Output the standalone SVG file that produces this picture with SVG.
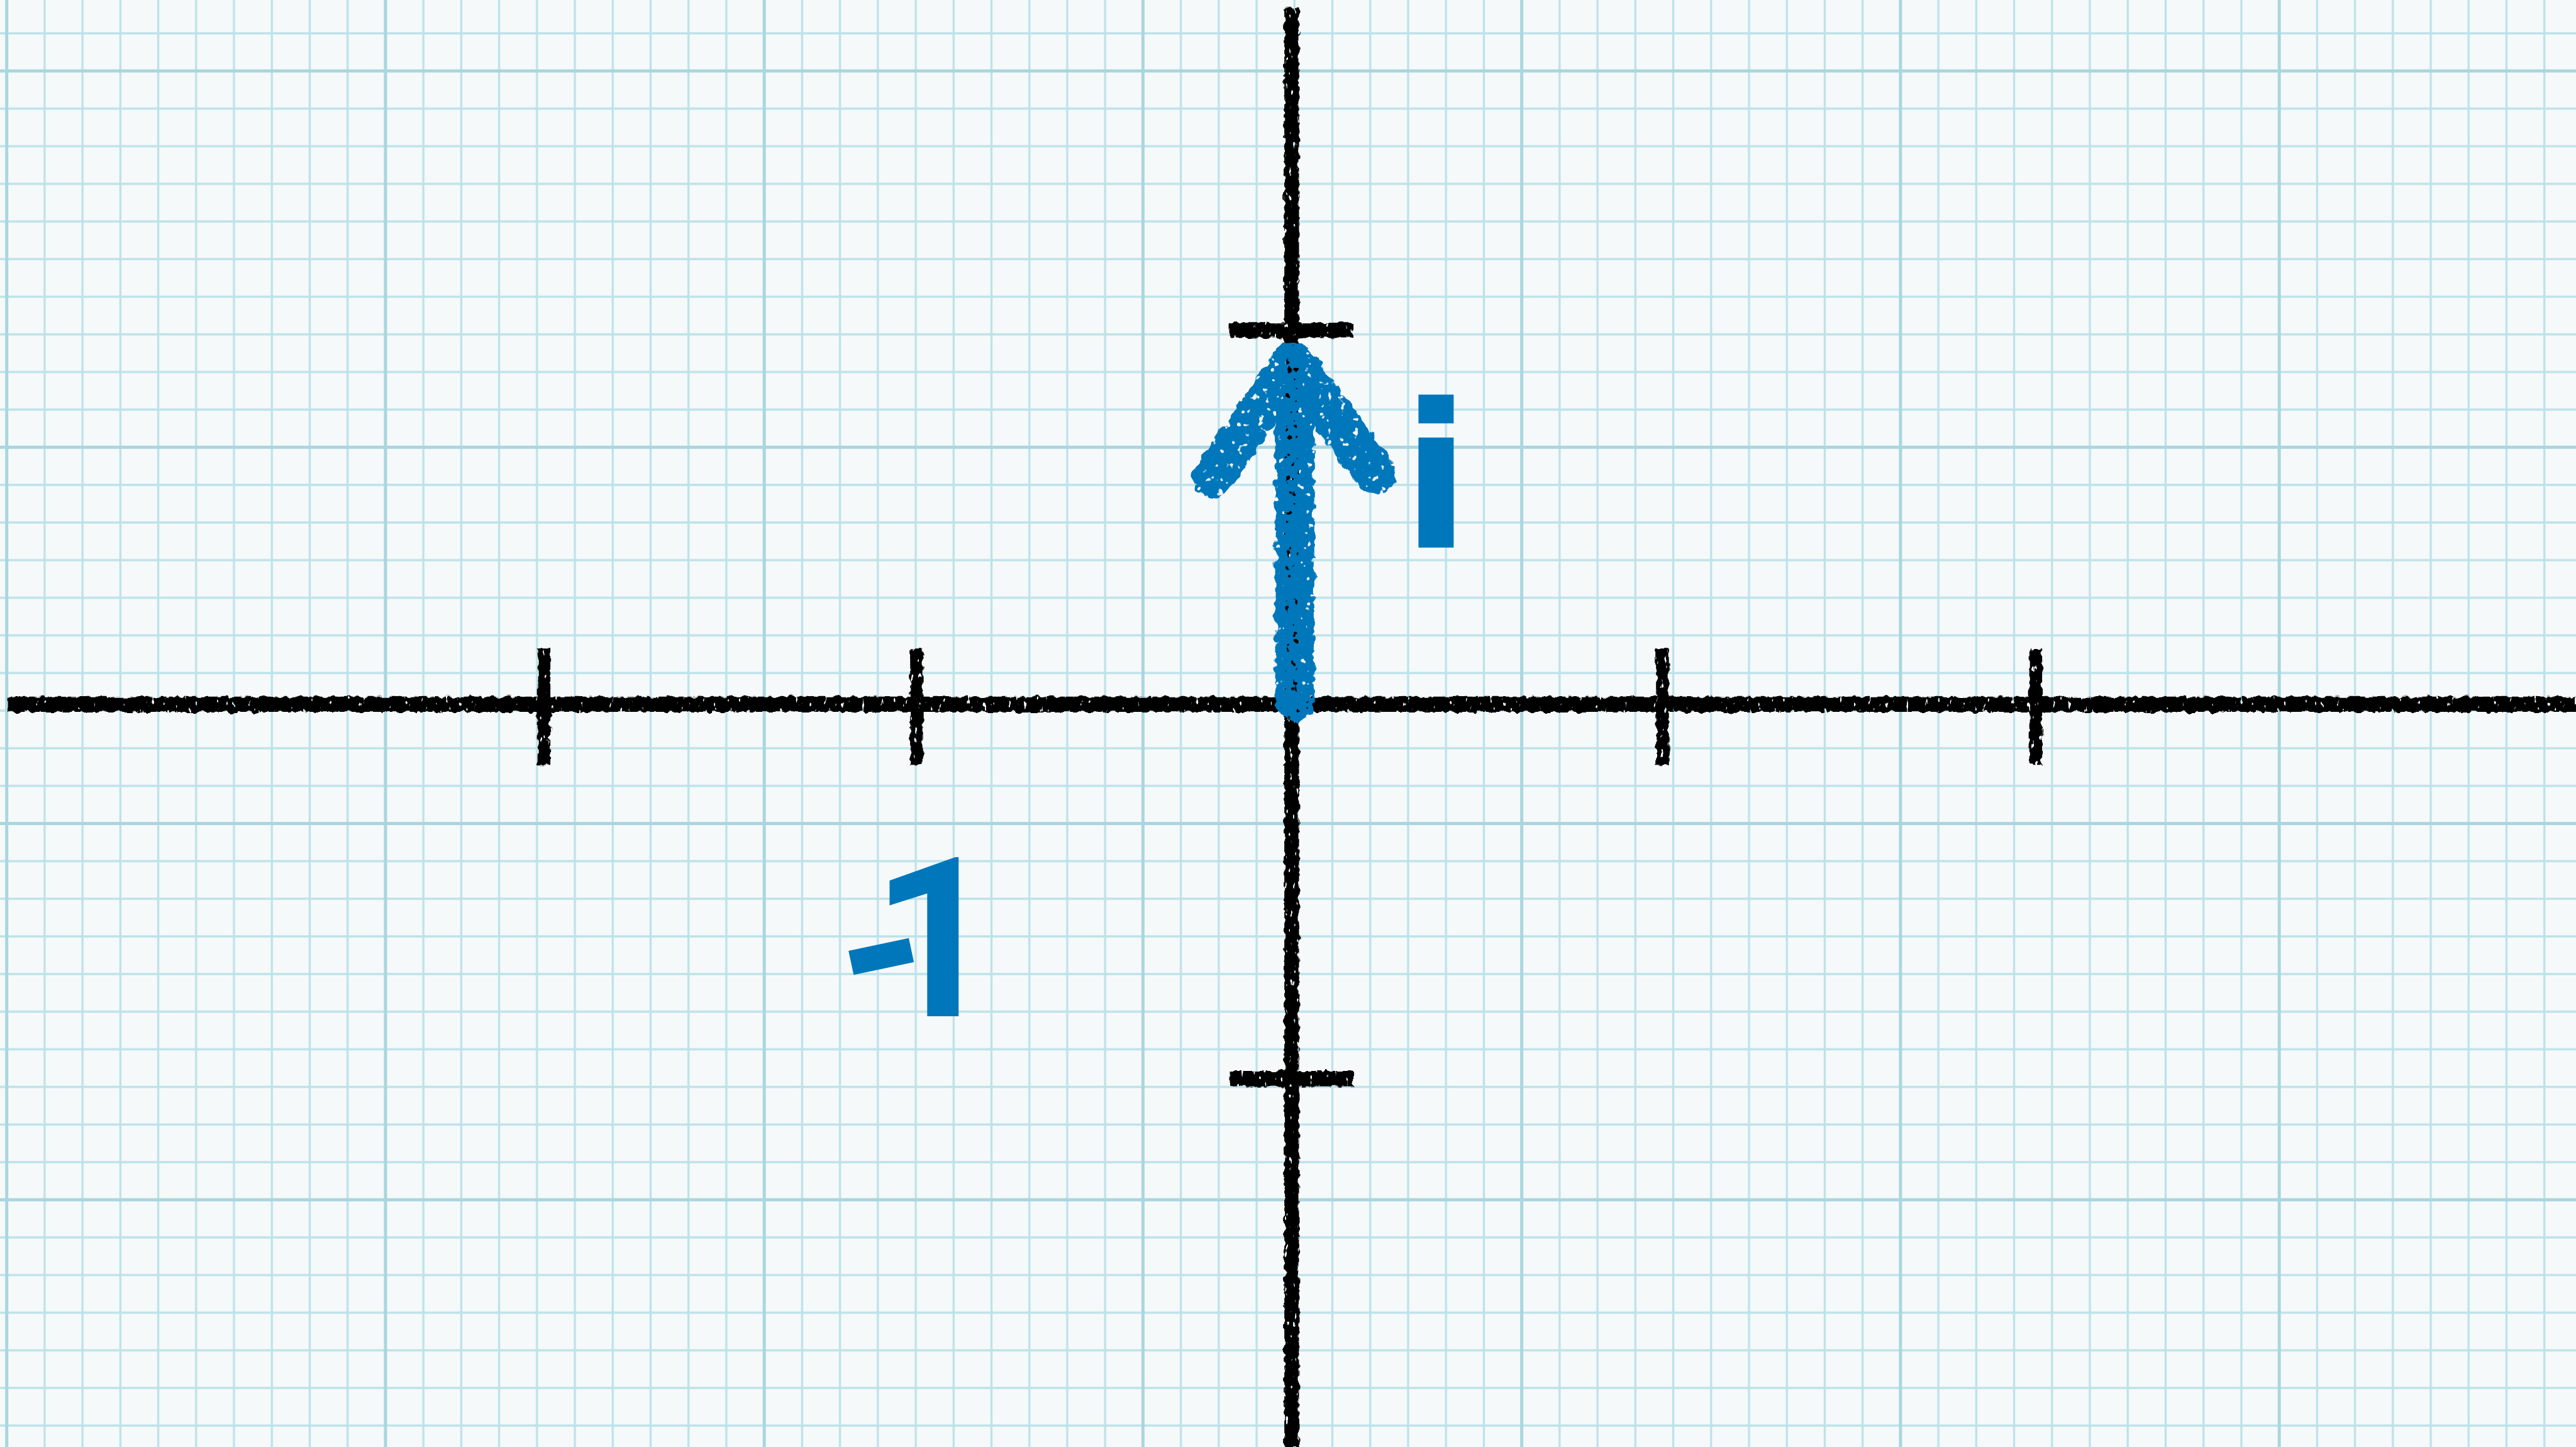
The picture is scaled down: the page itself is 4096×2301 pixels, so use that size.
<svg xmlns="http://www.w3.org/2000/svg" width="4096" height="2301" viewBox="0 0 4096 2301">
  <defs>
    <style>
      .paper { fill: #f6f9fa; }
      .axis { stroke: #000000; fill: none; stroke-linecap: butt; }
      .vec { stroke: #0077bb; fill: none; stroke-linecap: round; stroke-linejoin: round; }
      .lbl { fill: #0077bb; font-weight: bold; }
    </style>
    <pattern id="minorGrid" patternUnits="userSpaceOnUse" x="-19.95" y="23.75" width="61.9" height="61.5">
      <path d="M30.95 0V61.5M0 30.75H61.9" stroke="#bde2e9" stroke-width="3.5" fill="none"/>
    </pattern>
    <pattern id="majorGrid" patternUnits="userSpaceOnUse" x="-298.5" y="-191.5" width="619" height="615">
      <path d="M309.5 0V615M0 307.5H619" stroke="#a9d6df" stroke-width="5" fill="none"/>
    </pattern>
    <filter id="roughBlack" filterUnits="userSpaceOnUse" x="0" y="0" width="4210" height="2365" color-interpolation-filters="sRGB">
      <feTurbulence type="fractalNoise" baseFrequency="0.08" numOctaves="2" seed="2" result="n1"/>
      <feDisplacementMap in="SourceGraphic" in2="n1" scale="10" xChannelSelector="R" yChannelSelector="G" result="d"/>
      <feTurbulence type="fractalNoise" baseFrequency="0.15 0.07" numOctaves="2" seed="9" result="n2"/>
      <feColorMatrix in="n2" type="matrix" values="0 0 0 0 0  0 0 0 0 0  0 0 0 0 0  16 0 0 0 -11.2" result="holes"/>
      <feComposite in="d" in2="holes" operator="out"/>
    </filter>
    <filter id="roughBlue" filterUnits="userSpaceOnUse" x="1850" y="450" width="500" height="750" color-interpolation-filters="sRGB">
      <feTurbulence type="fractalNoise" baseFrequency="0.06" numOctaves="2" seed="5" result="n1"/>
      <feDisplacementMap in="SourceGraphic" in2="n1" scale="16" xChannelSelector="R" yChannelSelector="G" result="d"/>
      <feTurbulence type="fractalNoise" baseFrequency="0.09" numOctaves="2" seed="13" result="n2"/>
      <feColorMatrix in="n2" type="matrix" values="0 0 0 0 0  0 0 0 0 0  0 0 0 0 0  16 0 0 0 -10.6" result="holes"/>
      <feComposite in="d" in2="holes" operator="out"/>
    </filter>
  </defs>
  <g transform="scale(0.972922)">
    <g id="paper">
      <rect class="paper" x="0" y="0" width="4210" height="2365"/>
      <rect x="0" y="0" width="4210" height="2365" fill="url(#minorGrid)"/>
      <rect x="0" y="0" width="4210" height="2365" fill="url(#majorGrid)"/>
    </g>
    <g id="axes" filter="url(#roughBlack)">
      <path class="axis" d="M13 1151H4210" stroke-width="25"/>
      <path class="axis" d="M2111 13V2365" stroke-width="24"/>
      <path class="axis" d="M889 1060V1250M1498 1060V1250M2717 1060V1250M3327 1060V1250" stroke-width="21"/>
      <path class="axis" d="M2010 540H2212M2010 1763H2212" stroke-width="25"/>
    </g>
    <g id="connectors">
      <g id="vector-i" filter="url(#roughBlue)">
        <path class="vec" d="M2116 1147V610" stroke-width="64" stroke-linecap="butt"/>
        <path class="vec" d="M1982 780L2114 592L2247 774" stroke-width="68"/>
      </g>
    </g>
    <g id="label-i">
      <text class="lbl" x="2347" y="895" font-family="'DejaVu Sans', sans-serif" font-size="329" text-anchor="middle">i</text>
    </g>
    <g id="label-minus-1">
      <text class="lbl" x="1394" y="1661" font-family="Roboto, 'Open Sans', sans-serif" font-size="365"><tspan rotate="-12" dy="26">-</tspan><tspan dx="-114" dy="-26">1</tspan></text>
    </g>
  </g>
</svg>
